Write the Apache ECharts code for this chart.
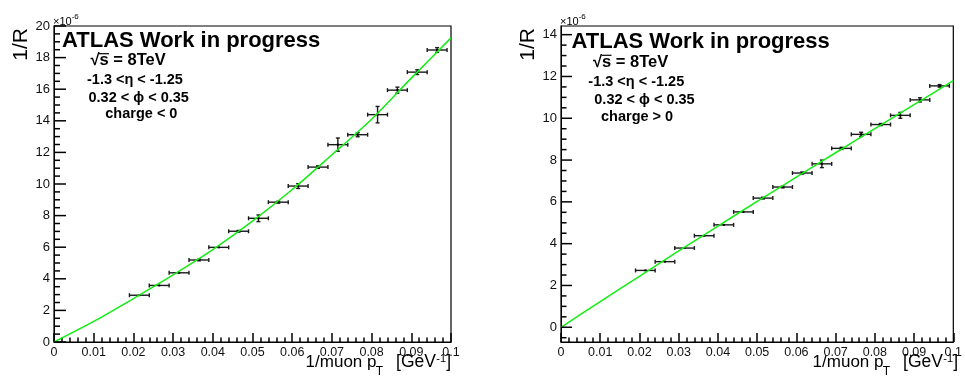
<!DOCTYPE html>
<html>
<head>
<meta charset="utf-8">
<script src="https://cdn.jsdelivr.net/npm/echarts@6/dist/echarts.min.js"></script>
<style>
  html, body { margin: 0; padding: 0; background: #fff; }
  #chart { width: 965px; height: 377px; }
</style>
</head>
<body>
<div id="chart"></div>
<script>
// 1/muon pT bin centres (GeV^-1) and half bin width
const binCenters = [0.0215, 0.0265, 0.0315, 0.0365, 0.0415, 0.0465, 0.0515, 0.0565,
                    0.0615, 0.0665, 0.0715, 0.0765, 0.0815, 0.0865, 0.0915, 0.0965];
const binHalfWidth = 0.0025;

// 1/R (units of 1e-6) for negative charge and its errors
const negValues = [2.96, 3.58, 4.38, 5.19, 5.99, 7.01, 7.83, 8.85,
                   9.87, 11.07, 12.49, 13.12, 14.39, 15.94, 17.08, 18.48];
const negErrors = [0.04, 0.04, 0.04, 0.05, 0.04, 0.05, 0.21, 0.06,
                   0.15, 0.08, 0.42, 0.13, 0.52, 0.19, 0.15, 0.15];

// 1/R (units of 1e-6) for positive charge and its errors
const posValues = [2.72, 3.14, 3.79, 4.38, 4.90, 5.52, 6.18, 6.71,
                   7.38, 7.82, 8.56, 9.23, 9.70, 10.14, 10.88, 11.55];
const posErrors = [0.03, 0.03, 0.03, 0.03, 0.03, 0.03, 0.04, 0.04,
                   0.05, 0.18, 0.05, 0.10, 0.05, 0.14, 0.10, 0.06];

// fitted curves sampled along 1/pT
const fitX = [0, 0.01, 0.02, 0.03, 0.04, 0.05, 0.06, 0.07, 0.08, 0.09, 0.1];
const negFit = [0, 1.30, 2.75, 4.25, 5.85, 7.65, 9.65, 11.85, 14.10, 16.70, 19.25];
const posFit = [0, 1.23, 2.44, 3.65, 4.84, 6.02, 7.18, 8.35, 9.50, 10.65, 11.80];

// axis ranges and tick labels
const xRange = [0, 0.1];
const negYRange = [0, 20];
const posYRange = [-0.705, 14.415];
const xTickValues = [0, 0.01, 0.02, 0.03, 0.04, 0.05, 0.06, 0.07, 0.08, 0.09, 0.1];
const negYTicks = [0, 2, 4, 6, 8, 10, 12, 14, 16, 18, 20];
const posYTicks = [0, 2, 4, 6, 8, 10, 12, 14];

const FONT = "'Liberation Sans', Arial, Helvetica, sans-serif";

function pointsOf(values, errors) {
  return binCenters.map((x, i) => [x, values[i], binHalfWidth, errors[i]]);
}
function curveOf(ys) {
  return fitX.map((x, i) => [x, ys[i]]);
}

// secondary tick positions between the labelled ones
function minorTicks(range, majors, parts) {
  const step = (majors[1] - majors[0]) / parts;
  const out = [];
  for (let k = Math.ceil(range[0] / step - 1e-9); k * step <= range[1] + 1e-12; k++) {
    const v = +(k * step).toFixed(6);
    if (!majors.some(m => Math.abs(m - v) < 1e-9)) out.push(v);
  }
  return out;
}

function renderErrorBar(params, api) {
  const x = api.value(0), y = api.value(1), ex = api.value(2), ey = api.value(3);
  const c = api.coord([x, y]);
  const l = api.coord([x - ex, y]);
  const r = api.coord([x + ex, y]);
  const t = api.coord([x, y + ey]);
  const b = api.coord([x, y - ey]);
  const style = { stroke: '#1a1a1a', lineWidth: 1.4 };
  const cap = 2;
  const children = [
    { type: 'line', shape: { x1: l[0], y1: c[1], x2: r[0], y2: c[1] }, style },
    { type: 'line', shape: { x1: l[0], y1: c[1] - cap, x2: l[0], y2: c[1] + cap }, style },
    { type: 'line', shape: { x1: r[0], y1: c[1] - cap, x2: r[0], y2: c[1] + cap }, style }
  ];
  if (b[1] - t[1] > 1.5) {
    children.push({ type: 'line', shape: { x1: c[0], y1: t[1], x2: c[0], y2: b[1] }, style });
    children.push({ type: 'line', shape: { x1: c[0] - cap, y1: t[1], x2: c[0] + cap, y2: t[1] }, style });
    children.push({ type: 'line', shape: { x1: c[0] - cap, y1: b[1], x2: c[0] + cap, y2: b[1] }, style });
  }
  children.push({ type: 'rect', shape: { x: c[0] - 1, y: c[1] - 1, width: 2, height: 2 }, style: { fill: '#000' } });
  return { type: 'group', children };
}

function xAxisFor(gridIndex) {
  return {
    type: 'value', gridIndex, min: xRange[0], max: xRange[1], interval: 0.01,
    axisLine: { show: true, onZero: false, lineStyle: { color: '#000', width: 1 } },
    axisTick: { show: true, inside: true, length: 9, lineStyle: { color: '#000', width: 1.5 } },
    minorTick: { show: true, splitNumber: 5, length: 4.5, lineStyle: { color: '#000', width: 1.5 } },
    splitLine: { show: false },
    axisLabel: {
      color: '#111', fontFamily: FONT, fontSize: 12.5, margin: 4,
      formatter: v => String(+v.toFixed(2))
    }
  };
}

function yAxisFor(gridIndex, range, ticks) {
  return {
    type: 'value', gridIndex, min: range[0], max: range[1],
    axisLine: { show: true, onZero: false, lineStyle: { color: '#000' } },
    axisTick: { show: false },
    minorTick: { show: false },
    splitLine: { show: false },
    axisLabel: { color: '#111', fontFamily: FONT, fontSize: 13, margin: 4, customValues: ticks }
  };
}

// text block drawn inside each frame
function textBlock(lines) {
  return lines.map(d => ({
    type: 'text', x: d.x, y: d.base - 0.35 * d.size, z: 100,
    style: {
      text: d.text, fill: '#000', fontFamily: FONT, fontSize: d.size,
      fontWeight: d.bold ? 'bold' : 'normal', align: d.align || 'left', verticalAlign: 'middle'
    }
  }));
}

function panelLabels(dx, info) {
  const yTitle = {
    type: 'text', x: 21 + dx, y: 28, rotation: Math.PI / 2, z: 100,
    style: { text: '1/R', fill: '#000', fontFamily: FONT, fontSize: 21, align: 'right', verticalAlign: 'middle' }
  };
  const pieces = textBlock([
    { text: '\u00d710', x: 53 + dx, base: 25.5, size: 11 },
    { text: '-6', x: 71.7 + dx, base: 19.5, size: 8 },
    { text: ']', x: 451 + dx, base: 368.3, size: 17.5, align: 'right' },
    { text: '-1', x: 446 + dx, base: 362.5, size: 11, align: 'right' },
    { text: '[GeV', x: 436 + dx, base: 368.3, size: 17.5, align: 'right' },
    { text: 'T', x: 383 + dx, base: 376, size: 12, align: 'right' },
    { text: '1/muon p', x: 376.5 + dx, base: 368.3, size: 17, align: 'right' }
  ]);
  // bar over the "s" of the square root
  const sq = info[1];
  const bar = {
    type: 'line', z: 100,
    shape: { x1: sq.x + 8.5, y1: sq.base - 13, x2: sq.x + 18.5, y2: sq.base - 13 },
    style: { stroke: '#000', lineWidth: 1.2 }
  };
  return [yTitle, bar].concat(pieces, textBlock(info));
}

const negInfo = [
  { text: 'ATLAS Work in progress', x: 62, base: 48.7, size: 22, bold: true },
  { text: '\u221as = 8TeV', x: 90.5, base: 66.7, size: 16.5, bold: true },
  { text: '-1.3 <\u03b7 < -1.25', x: 87, base: 85, size: 14.5, bold: true },
  { text: '0.32 < \u03d5 < 0.35', x: 88.5, base: 103.3, size: 14.5, bold: true },
  { text: 'charge < 0', x: 105.3, base: 119.3, size: 14.5, bold: true }
];
const posInfo = [
  { text: 'ATLAS Work in progress', x: 571.5, base: 49.3, size: 22, bold: true },
  { text: '\u221as = 8TeV', x: 593, base: 68.3, size: 16.5, bold: true },
  { text: '-1.3 <\u03b7 < -1.25', x: 588.3, base: 87.3, size: 14.5, bold: true },
  { text: '0.32 < \u03d5 < 0.35', x: 594.3, base: 105, size: 14.5, bold: true },
  { text: 'charge > 0', x: 601, base: 121.7, size: 14.5, bold: true }
];

const chart = echarts.init(document.getElementById('chart'));

chart.setOption({
  animation: false,
  backgroundColor: '#fff',
  grid: [
    { left: 54, top: 26, width: 397, height: 316, show: true, borderColor: '#000', borderWidth: 1.2 },
    { left: 561, top: 26, width: 397, height: 316, show: true, borderColor: '#000', borderWidth: 1.2 }
  ],
  xAxis: [xAxisFor(0), xAxisFor(1)],
  yAxis: [yAxisFor(0, negYRange, negYTicks), yAxisFor(1, posYRange, posYTicks)],
  series: [
    {
      type: 'custom', xAxisIndex: 0, yAxisIndex: 0, renderItem: renderErrorBar,
      encode: { x: 0, y: 1 }, data: pointsOf(negValues, negErrors), z: 2, clip: true
    },
    {
      type: 'line', xAxisIndex: 0, yAxisIndex: 0, data: curveOf(negFit), smooth: 0.3,
      showSymbol: false, lineStyle: { color: '#11ee11', width: 1.5 }, z: 3, clip: true
    },
    {
      type: 'custom', xAxisIndex: 1, yAxisIndex: 1, renderItem: renderErrorBar,
      encode: { x: 0, y: 1 }, data: pointsOf(posValues, posErrors), z: 2, clip: true
    },
    {
      type: 'line', xAxisIndex: 1, yAxisIndex: 1, data: curveOf(posFit), smooth: 0.3,
      showSymbol: false, lineStyle: { color: '#11ee11', width: 1.5 }, z: 3, clip: true
    }
  ]
});

// inward ticks along the left edge of each frame, placed through the grid's y scale
function yTicks(gridIndex, yRange, yMajor, len) {
  const out = [];
  const left = chart.convertToPixel({ xAxisIndex: gridIndex }, xRange[0]);
  const add = (v, l) => {
    const py = chart.convertToPixel({ yAxisIndex: gridIndex }, v);
    out.push({
      type: 'line', z: 100,
      shape: { x1: left, y1: py, x2: left + l, y2: py },
      style: { stroke: '#000', lineWidth: 1.5 }
    });
  };
  yMajor.forEach(v => add(v, len.major));
  minorTicks(yRange, yMajor, 4).forEach(v => add(v, len.minor));
  return out;
}

chart.setOption({
  graphic: panelLabels(0, negInfo)
    .concat(panelLabels(507, posInfo))
    .concat(yTicks(0, negYRange, negYTicks, { major: 12, minor: 6 }))
    .concat(yTicks(1, posYRange, posYTicks, { major: 11, minor: 5.5 }))
});
</script>
</body>
</html>
